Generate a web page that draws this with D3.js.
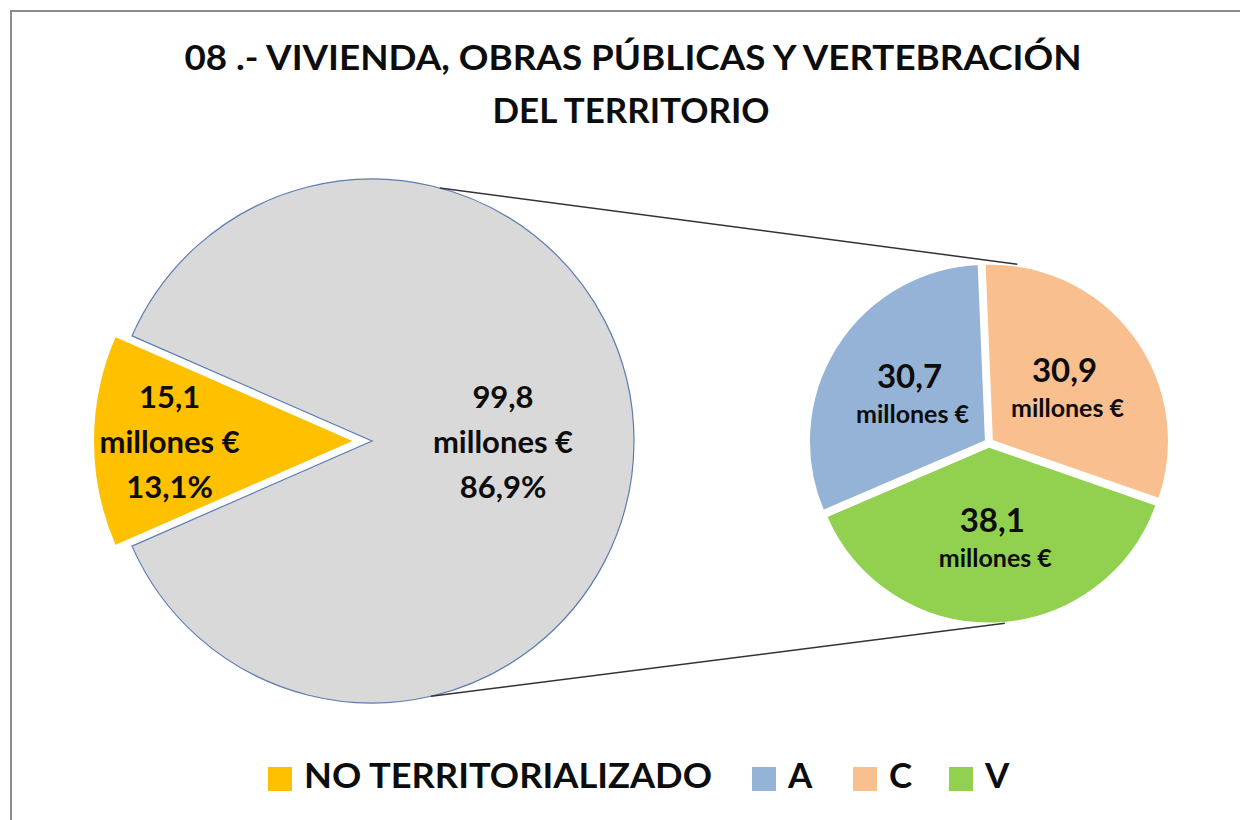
<!DOCTYPE html>
<html>
<head>
<meta charset="utf-8">
<script src="https://cdn.jsdelivr.net/npm/d3@7"></script>
<style>
  body { margin: 0; background: #fff; }
  text { font-family: Lato, "Open Sans", sans-serif; font-weight: bold; fill: #0d0d0d; }
</style>
</head>
<body>
<svg id="chart" width="1240" height="820"></svg>
<script>
// data
var titleLines = ["08 .- VIVIENDA, OBRAS PÚBLICAS Y VERTEBRACIÓN", "DEL TERRITORIO"];
var mainNames = ["NO TERRITORIALIZADO", "RESTO"];
var mainValues = [15.1, 99.8];
var mainShares = ["13,1%", "86,9%"];
var subNames = ["C", "V", "A"];
var subValues = [30.9, 38.1, 30.7];
var legendNames = ["NO TERRITORIALIZADO", "A", "C", "V"];

var colors = {"NO TERRITORIALIZADO": "#ffc000", "RESTO": "#d9d9d9", "A": "#95b3d7", "C": "#fabf8f", "V": "#92d050"};
var fmt = function(v) { return d3.format(".1f")(v).replace(".", ","); };
var deg = Math.PI / 180;

var svg = d3.select("#chart");

// frame (only top and left edges show)
svg.append("rect")
    .attr("x", 11).attr("y", 11)
    .attr("width", 1260).attr("height", 840)
    .attr("fill", "none")
    .attr("stroke", "#8c8c8c")
    .attr("stroke-width", 2);

// squeeze a text to a given width
function fit(sel, w) {
    sel.attr("textLength", w).attr("lengthAdjust", "spacingAndGlyphs");
}

// title
svg.append("text").attr("x", 633).attr("y", 70).attr("text-anchor", "middle")
    .attr("font-size", 35).text(titleLines[0]).call(fit, 897);
svg.append("text").attr("x", 631).attr("y", 123).attr("text-anchor", "middle")
    .attr("font-size", 35).text(titleLines[1]).call(fit, 277);

// big pie
var bigC = [372, 441], bigR = 262;
var share0 = mainValues[0] / d3.sum(mainValues);
var start0 = 1.5 * Math.PI - share0 * Math.PI;
var bigPie = d3.pie().sort(null).startAngle(start0).endAngle(start0 + 2 * Math.PI);
var bigArc = d3.arc().innerRadius(0).outerRadius(bigR);
var bigData = bigPie(mainValues);

var gBig = svg.append("g").attr("transform", "translate(" + bigC + ")");

gBig.selectAll("path")
    .data(bigData)
    .enter()
    .append("path")
    .attr("d", bigArc)
    .attr("transform", function(d, i) {
        if (i !== 0) return null;
        var a = (d.startAngle + d.endAngle) / 2;
        return "translate(" + (17 * Math.sin(a)) + "," + (-17 * Math.cos(a)) + ")";
    })
    .attr("fill", function(d, i) { return colors[mainNames[i]]; })
    .attr("stroke", function(d, i) { return i === 0 ? "#fff" : "#5b7db3"; })
    .attr("stroke-width", function(d, i) { return i === 0 ? 2 : 1.2; });

var bigLabel = d3.arc().innerRadius(0).outerRadius(bigR);
var orangeLabel = d3.arc().innerRadius(bigR * 0.7).outerRadius(bigR * 0.7);

gBig.selectAll("g.lab")
    .data(bigData)
    .enter()
    .append("g")
    .attr("class", "lab")
    .each(function(d, i) {
        var p = i === 0 ? orangeLabel.centroid(d) : bigLabel.centroid(d);
        if (i === 0) p[0] -= 19;
        var g = d3.select(this);
        var lines = [fmt(mainValues[i]), "millones €", mainShares[i]];
        lines.forEach(function(t, k) {
            g.append("text")
                .attr("x", p[0])
                .attr("y", p[1] - 33 + 45 * k)
                .attr("text-anchor", "middle")
                .attr("font-size", 31)
                .text(t);
        });
    });

// small pie
var smallC = [989, 443], smallR = 181;
var subShareC = subValues[0] / d3.sum(subValues);
var subShareV = subValues[1] / d3.sum(subValues);
var start1 = Math.PI - 2 * Math.PI * (subShareC + subShareV / 2) - 2 * deg;
var smallPie = d3.pie().sort(null).startAngle(start1).endAngle(start1 + 2 * Math.PI);
var smallArc = d3.arc().innerRadius(0).outerRadius(smallR - 3);
var smallLabel = d3.arc().innerRadius(94).outerRadius(94);
var smallData = smallPie(subValues);

var gSmall = svg.append("g").attr("transform", "translate(" + smallC + ")");

gSmall.selectAll("path")
    .data(smallData)
    .enter()
    .append("path")
    .attr("d", smallArc)
    .attr("transform", function(d) {
        var a = (d.startAngle + d.endAngle) / 2;
        return "translate(" + (3 * Math.sin(a)) + "," + (-3 * Math.cos(a)) + ")";
    })
    .attr("fill", function(d, i) { return colors[subNames[i]]; })
    .attr("stroke", "#fff")
    .attr("stroke-width", 3);

gSmall.selectAll("g.lab")
    .data(smallData)
    .enter()
    .append("g")
    .attr("class", "lab")
    .each(function(d, i) {
        var p = smallLabel.centroid(d);
        var g = d3.select(this);
        g.append("text")
            .attr("x", p[0]).attr("y", p[1] - 5)
            .attr("text-anchor", "middle")
            .attr("font-size", 33)
            .text(fmt(subValues[i]));
        g.append("text")
            .attr("x", p[0] + 3).attr("y", p[1] + 30)
            .attr("text-anchor", "middle")
            .attr("font-size", 25)
            .text("millones €");
    });

// connector lines between the pies
function onCircle(c, r, a) {
    return [c[0] + r * Math.sin(a * deg), c[1] - r * Math.cos(a * deg)];
}
var links = [[15, 9], [167, 175]];
links.forEach(function(l) {
    var p1 = onCircle(bigC, bigR, l[0]);
    var p2 = onCircle(smallC, smallR, l[1]);
    svg.append("line")
        .attr("x1", p1[0]).attr("y1", p1[1])
        .attr("x2", p2[0]).attr("y2", p2[1])
        .attr("stroke", "#333")
        .attr("stroke-width", 1.5);
});

// legend
var legendX = [268, 752, 853, 949];
var legend = svg.selectAll("g.legend")
    .data(legendNames)
    .enter()
    .append("g")
    .attr("class", "legend")
    .attr("transform", function(d, i) { return "translate(" + legendX[i] + ",767)"; });

legend.append("rect")
    .attr("width", 24).attr("height", 24)
    .attr("fill", function(d) { return colors[d]; });

legend.append("text")
    .attr("x", 36).attr("y", 21)
    .attr("font-size", 35)
    .text(function(d) { return d; })
    .each(function(d) { if (d === "NO TERRITORIALIZADO") d3.select(this).call(fit, 408); });
</script>
</body>
</html>
